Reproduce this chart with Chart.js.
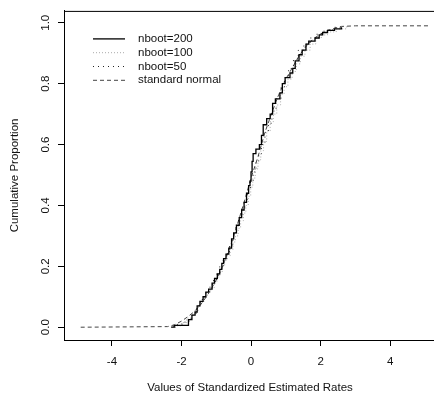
<!DOCTYPE html>
<html>
<head>
<meta charset="utf-8">
<script src="https://cdn.jsdelivr.net/npm/chart.js@4"></script>
<style>
  html, body { margin: 0; padding: 0; background: #fff; overflow: hidden; }
  #wrap { width: 436px; height: 399px; }
</style>
</head>
<body>
<div id="wrap"><canvas id="ecdfChart" width="436" height="399"></canvas></div>
<script>
// ECDF of standardized estimated rates
const x200 = [-2.30,-2.21,-1.80,-1.70,-1.61,-1.55,-1.47,-1.38,-1.30,-1.22,-1.12,-1.05,-0.97,-0.90,-0.84,-0.79,-0.72,-0.64,-0.56,-0.50,-0.42,-0.34,-0.27,-0.20,-0.13,-0.07,-0.03,0.00,0.03,0.06,0.14,0.24,0.30,0.35,0.45,0.55,0.62,0.70,0.83,0.90,0.98,1.12,1.20,1.27,1.38,1.47,1.58,1.66,1.84,1.96,2.06,2.20,2.40,2.60];
const p200 = [0,0.006,0.025,0.04,0.05,0.07,0.085,0.10,0.115,0.125,0.145,0.16,0.175,0.19,0.21,0.225,0.24,0.26,0.29,0.31,0.335,0.36,0.385,0.41,0.44,0.465,0.48,0.51,0.545,0.57,0.585,0.60,0.63,0.665,0.685,0.70,0.735,0.75,0.77,0.80,0.82,0.835,0.85,0.875,0.895,0.91,0.93,0.94,0.95,0.96,0.968,0.975,0.98,0.985];

const x100 = [-2.26,-2.18,-2.0,-1.85,-1.72,-1.62,-1.52,-1.44,-1.35,-1.26,-1.16,-1.06,-0.98,-0.90,-0.83,-0.76,-0.68,-0.60,-0.52,-0.45,-0.37,-0.30,-0.22,-0.15,-0.08,-0.01,0.05,0.12,0.20,0.28,0.36,0.45,0.55,0.64,0.74,0.85,0.95,1.06,1.18,1.30,1.42,1.55,1.70,1.86,2.02,2.20,2.45,2.75];
const p100 = [0,0.005,0.015,0.03,0.045,0.055,0.07,0.085,0.10,0.115,0.13,0.15,0.165,0.18,0.20,0.22,0.235,0.255,0.28,0.30,0.325,0.35,0.375,0.40,0.43,0.46,0.49,0.52,0.55,0.58,0.61,0.645,0.675,0.70,0.73,0.765,0.79,0.815,0.84,0.865,0.89,0.91,0.93,0.95,0.96,0.97,0.98,0.99];

const x50 = [-2.20,-2.12,-1.90,-1.72,-1.58,-1.50,-1.40,-1.30,-1.18,-1.08,-0.98,-0.90,-0.80,-0.72,-0.62,-0.52,-0.44,-0.36,-0.26,-0.18,-0.10,-0.02,0.06,0.14,0.22,0.30,0.40,0.50,0.60,0.72,0.86,0.96,1.08,1.22,1.36,1.52,1.70,1.90,2.10,2.35,2.60];
const p50 = [0,0.01,0.02,0.04,0.06,0.08,0.10,0.12,0.14,0.16,0.18,0.20,0.22,0.24,0.27,0.30,0.33,0.36,0.39,0.42,0.45,0.48,0.51,0.54,0.57,0.60,0.64,0.67,0.71,0.75,0.79,0.82,0.85,0.88,0.91,0.93,0.95,0.965,0.975,0.985,0.99];

const xNorm = [-4.9,-2.4,-2.2,-2.0,-1.8,-1.6,-1.4,-1.2,-1.0,-0.8,-0.6,-0.4,-0.2,0,0.2,0.4,0.6,0.8,1.0,1.2,1.4,1.6,1.8,2.0,2.2,2.4,2.6,3.0,5.15];
const pNorm = [0,0.002,0.008,0.02,0.036,0.055,0.081,0.115,0.155,0.205,0.265,0.335,0.41,0.49,0.56,0.64,0.705,0.765,0.815,0.855,0.895,0.925,0.948,0.963,0.975,0.982,0.988,0.99,0.99];

const seriesLabels = ['nboot=200', 'nboot=100', 'nboot=50', 'standard normal'];
const xTicks = [-4, -2, 0, 2, 4];
const yTicks = [0, 0.2, 0.4, 0.6, 0.8, 1.0];

const FONT = "'Liberation Sans', Arial, Helvetica, sans-serif";
Chart.defaults.font.family = FONT;
Chart.defaults.font.size = 11;
Chart.defaults.color = '#111';

const pts = (xs, ps) => xs.map((x, i) => ({ x, y: ps[i] }));

// legend drawn inside the plot, upper left (like R's legend())
const insideLegend = {
  id: 'insideLegend',
  afterDatasetsDraw(chart) {
    const { ctx, chartArea: a } = chart;
    ctx.save();
    chart.data.datasets.forEach((ds, i) => {
      const y = a.top + 28 + i * 13.8;
      ctx.strokeStyle = ds.borderColor;
      ctx.lineWidth = ds.borderWidth;
      ctx.setLineDash(ds.borderDash || []);
      ctx.beginPath();
      ctx.moveTo(a.left + 29, y);
      ctx.lineTo(a.left + 61, y);
      ctx.stroke();
      ctx.setLineDash([]);
      ctx.fillStyle = '#111';
      ctx.font = `11.5px ${FONT}`;
      ctx.textBaseline = 'middle';
      ctx.fillText(ds.label, a.left + 74, y);
    });
    // top border of the box
    ctx.strokeStyle = '#000';
    ctx.lineWidth = 1;
    ctx.beginPath();
    ctx.moveTo(a.left, a.top + 0.5);
    ctx.lineTo(a.right, a.top + 0.5);
    ctx.stroke();
    ctx.restore();
  }
};

new Chart(document.getElementById('ecdfChart'), {
  type: 'line',
  data: {
    datasets: [
      { label: seriesLabels[0], data: pts(x200, p200), stepped: 'before',
        borderColor: '#000', borderWidth: 1.3 },
      { label: seriesLabels[1], data: pts(x100, p100), stepped: 'before',
        borderColor: '#aaa', borderWidth: 1, borderDash: [1, 2] },
      { label: seriesLabels[2], data: pts(x50, p50), stepped: 'before',
        borderColor: '#222', borderWidth: 1, borderDash: [1, 4] },
      { label: seriesLabels[3], data: pts(xNorm, pNorm),
        borderColor: '#444', borderWidth: 1, borderDash: [4, 3] },
    ],
  },
  options: {
    responsive: false,
    animation: false,
    events: [],
    layout: { padding: { top: 5, left: 0, right: 0, bottom: 0 } },
    elements: { point: { radius: 0 }, line: { tension: 0, fill: false } },
    plugins: { legend: { display: false }, tooltip: { enabled: false } },
    scales: {
      x: {
        type: 'linear', min: -5.38, max: 5.32,
        afterFit: s => { s.height = 59; },
        afterBuildTicks: s => { s.ticks = xTicks.map(v => ({ value: v })); },
        ticks: { padding: 9, color: '#111', font: { size: 11.5 }, callback: v => String(v) },
        grid: { drawOnChartArea: false, drawTicks: true, tickLength: 6, color: '#000' },
        border: { display: true, color: '#000', width: 1 },
        title: { display: true, text: 'Values of Standardized Estimated Rates',
                 color: '#111', font: { size: 11.5 }, padding: { top: 0, bottom: 4 } },
      },
      y: {
        type: 'linear', min: -0.042, max: 1.039,
        afterFit: s => { s.width = 64; },
        afterBuildTicks: s => { s.ticks = yTicks.map(v => ({ value: v })); },
        ticks: { padding: 4, minRotation: 90, maxRotation: 90, crossAlign: 'center',
                 color: '#111', font: { size: 11.5 }, callback: v => v.toFixed(1) },
        grid: { drawOnChartArea: false, drawTicks: true, tickLength: 6, color: '#000' },
        border: { display: true, color: '#000', width: 1 },
        title: { display: true, text: 'Cumulative Proportion',
                 color: '#111', font: { size: 11.5 }, padding: { top: 8, bottom: 0 } },
      },
    },
  },
  plugins: [insideLegend],
});
</script>
</body>
</html>
